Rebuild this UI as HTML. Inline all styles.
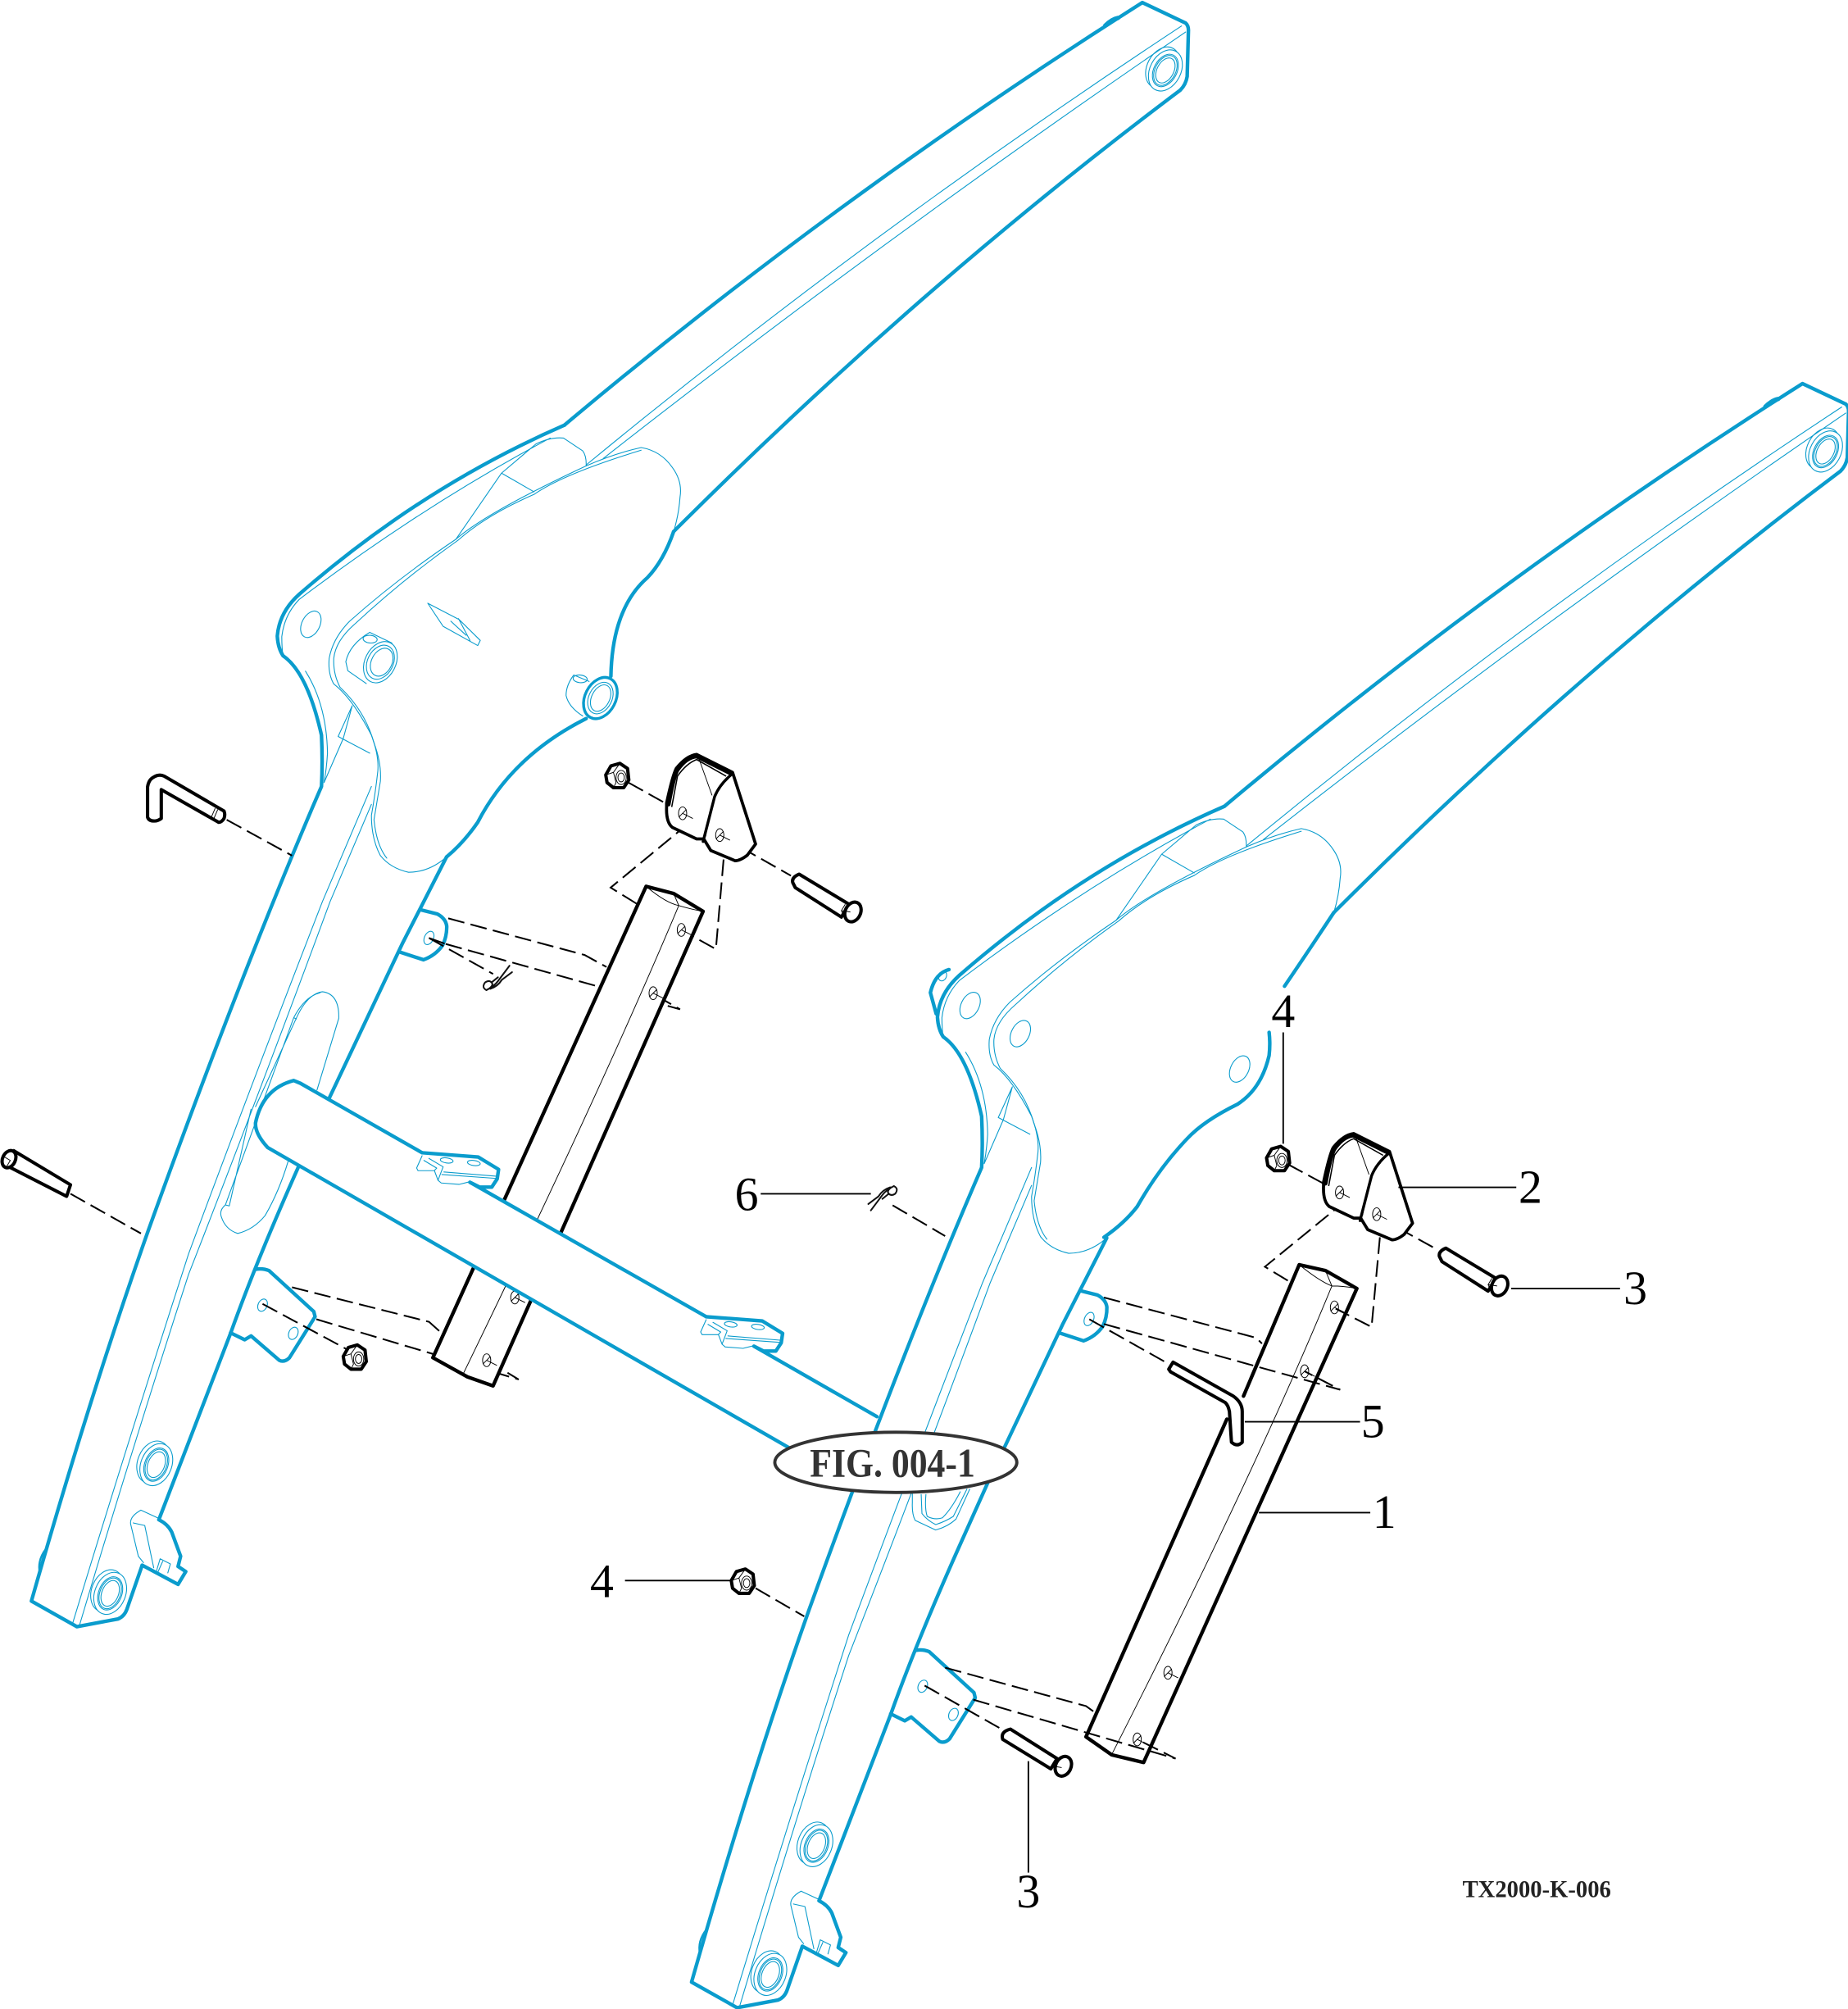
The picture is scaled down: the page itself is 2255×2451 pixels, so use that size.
<!DOCTYPE html>
<html><head><meta charset="utf-8"><style>
html,body{margin:0;padding:0;background:#fff}
svg{display:block}
.B{fill:none;stroke:#0a9ccd;stroke-width:2.8;stroke-linecap:round;stroke-linejoin:round}
.T{fill:none;stroke:#0a9ccd;stroke-width:.7;stroke-linecap:round;stroke-linejoin:round}
.K{fill:none;stroke:#000;stroke-width:2.8;stroke-linecap:round;stroke-linejoin:round}
.W{fill:#fff;stroke:#000;stroke-width:2.6;stroke-linejoin:round}
.t{fill:none;stroke:#000;stroke-width:.6}
.L{fill:none;stroke:#000;stroke-width:1.2}
.D{fill:none;stroke:#000;stroke-width:1.3;stroke-dasharray:13 5}
.n{font-family:"Liberation Serif",serif;font-size:37px;fill:#000;text-anchor:middle}
</style></head><body>
<svg xmlns="http://www.w3.org/2000/svg" width="2255" height="2451" viewBox="0 0 1443 1568.5">
<rect width="1443" height="1568.5" fill="#fff"/>
<defs>
<g id="brg"><ellipse cx="-3" cy="-1" rx="12" ry="17" class="T"/><ellipse cx="0" cy="0" rx="12" ry="17" class="T" style="fill:#fff"/><ellipse rx="9" ry="13.5" class="T"/><ellipse rx="8" ry="12.5" class="T"/><ellipse rx="6.5" ry="10.5" class="T"/></g>
<g id="bh"><ellipse rx="3.2" ry="5" class="t"/><path d="M-3 3L3-3M0 0L8 4" class="t"/></g>
<g id="nut"><path d="M-9-1L-5-8L2-10L8-6L9 3L5 9L-3 9L-8 5Z" fill="#fff" stroke="#000" stroke-width="2.600" stroke-linejoin="round"/><path d="M-9-1L-3-3L-1 5L-3 9M-3-3L2-10" class="t"/><ellipse cx="3" cy="1" rx="4" ry="5.500" class="t"/><ellipse cx="3" cy="1" rx="2.500" ry="3.500" class="t"/></g>
<g id="bolt"><path d="M619 689Q618 685 624 682.500L663 706L657 716L621 693Z" class="W"/><ellipse cx="666" cy="712" rx="6" ry="8" transform="rotate(25 666 712)" class="W"/><path d="M660 706L657 711L660 718M657 711L664 712" class="t"/></g>
<g id="brk"><path d="M520.500 627Q525 606 528 600Q536 590 544 589L572 603L590 659L583.500 667.700Q578 672 574 672L555 664L549.500 655L544 655L525 646Q520 642 520.500 630Z" class="W" style="stroke-width:2.400"/><path d="M522 628Q526 606 529 601Q536 591 544 590.500L571 604" class="K" style="stroke-width:3.200"/><path d="M572 604Q562 612 558 622L549 657" class="K" style="stroke-width:2.200"/><path d="M524.500 630L529 606Q536 596 544 593L567 606" class="t" style="stroke-width:1"/><path d="M546 593L556 621M565 612Q557 620 554 635L551 653" class="t"/><use href="#bh" x="533" y="635"/><use href="#bh" x="562" y="652"/></g>
<g id="post"><path d="M504.500 692L526 697.600L549 711.500L385 1082L365 1075L338 1060Z" fill="#fff"/><path d="M338 1060L504.500 692L526 697.600L549 711.500L385 1082L365 1075Z" class="K"/><path d="M504.500 692Q520 705 530 707Q540 710 549 711.500M526 697.600L530 707Q470 850 361 1074" class="t"/></g>
<g id="clip"><path d="M-1 3Q-5 1-2-3Q1-5 3-3Q5-1 1 2M-1 3Q5 0 8-4L17-16M2 2Q8 0 11-5L19-11M3-3L8-7" fill="none" stroke="#111" stroke-width="1.300" stroke-linecap="round"/></g>
<g id="tc">
<path d="M329.600 900L373.300 903.300L389.300 913L388.200 920.400L384 926.800L374.400 926.800L366.900 923L358.400 924.700L344.500 923.600L342 921.500L339.200 914L326.400 914L325.300 911.900Z" fill="#fff"/>
<path d="M329.600 900L373.300 903.300L389.300 913L388.200 920.400L384 926.800L374.400 926.800L366.900 923" class="B"/>
<path d="M329.600 902.300L325.300 911.900L326.400 914L339.200 914L342 921.500L344.500 923.600L358.400 924.700L366.900 922.600M346.600 915L387.200 918.300M345 917L387 920M334.900 904.400L346 911L342 921.500M331 906L341 912L339 914" class="T"/>
<ellipse cx="348.800" cy="906" rx="5" ry="2" transform="rotate(8 348.800 906)" class="T"/><ellipse cx="370" cy="908" rx="5" ry="2" transform="rotate(8 370 908)" class="T"/>
</g>
<g id="arm">
<path d="M440.600 332Q655 152 892 2L926 18L928 24L927 60L921.600 70.400Q716 225 526 415L505.500 451Q478 480 477 528L457.700 561Q400 590 373 642L348.700 669L314.500 736L180 1041L124 1186L139 1237L145 1227L99 1256Q95 1264 60 1270L24.500 1250Q70 1060 116 960Q165 830 251 614Q250 560 221 512Q210 500 216.500 490Q222 472 233.600 464Q340 385 440.600 332Z" fill="#fff" stroke="none"/>
<path d="M440.600 332Q655 152 892 2L925.800 18Q928 20 928 23.500L927 59.700Q926 66 921.600 70.400Q716 225 526 415" class="B"/>
<path d="M440.600 332Q330 380 233.600 464Q218 478 216.500 496.600Q217 506 221 512Q240 525 251 574Q252 595 251 614Q190 755 116 960Q70 1090 24.500 1250L60 1270L92 1264Q97 1262 99 1256.500L111 1222" class="B"/>
<path d="M348.700 669L314.500 736L257 857.500L233.600 909.700Q200 985 180 1041L124 1186.500Q131 1190 134 1196L141 1215L139 1223L145 1227L139 1237L111 1222" class="B"/>
<path d="M429.600 342Q330 395 233.600 468Q222 480 220 497Q220 506 221 512M238.500 524Q255 550 255.700 588Q255 600 253 611L268 576.600L275 551L264 575L288.700 588" class="T"/>
<path d="M922.600 20.300Q680 180 457.700 363M925.800 25Q690 186 471 358" class="T"/>
<path d="M457.700 363.700Q480 354 500.600 349.400Q516 352 525 365Q533 376 531 388Q530 402 526 415" class="T"/>
<path d="M457.700 363.700Q380 400 356 421Q310 452 273 485Q260 498 257 514Q256 526 260.600 534Q275 545 290 574Q296 590 295 602Q293 620 290 636.600Q290 655 297 668Q305 678 319 681Q335 681 348.700 669" class="T"/>
<path d="M500.600 351.500Q440 370 417 386Q380 402 358 421.500Q315 452 277.700 486.600Q262 500 260.600 514Q260 526 265.500 536.600Q285 555 292 580Q298 596 297 610Q294 628 292 640Q294 660 302 670" class="T"/>
<path d="M418.500 346.600L391.600 369.400L356 421M391.600 369.400L417 384M418.500 346.600Q430 341 440 342L455 352Q458 356 457.700 363.700" class="T"/>
<path d="M290 614L251.700 704Q195 850 147.200 979Q100 1125 56.500 1268M290 628L257.700 704Q200 860 147.200 995Q105 1125 62 1269" class="T"/>
<path d="M328.500 710.300L341.300 713.500Q348 717 348.800 723Q349 731 345.600 738Q340 746 330.600 749.300L312.500 743.400" class="B"/>
<g transform="translate(334.900 732.300) rotate(25)"><ellipse rx="3.500" ry="5.500" class="T"/></g>
<path d="M199.500 991Q205 990 210 992L245 1024L246 1028L226 1060Q222 1064 218 1062L196 1043L191 1046L180 1040.600" class="B"/>
<ellipse cx="205" cy="1019" rx="3.500" ry="5" transform="rotate(25 205 1019)" class="T"/><ellipse cx="229" cy="1041" rx="3.500" ry="5" transform="rotate(25 229 1041)" class="T"/>
<use href="#brg" transform="translate(122 1143.500) rotate(22)"/><use href="#brg" transform="translate(86 1244) rotate(22)"/>
<path d="M123 1185L110 1179Q101 1184 102 1190L108 1215L112 1220M104 1189L113 1191L120 1224" class="T"/><path d="M122 1227L125 1217L133 1221L131 1228M127 1219L123 1228" class="T"/>
<path d="M36 1209Q29 1218 31 1228" class="B" style="stroke-width:1.500"/>
<use href="#brg" transform="translate(910 55) rotate(28)"/>
<path d="M863 20Q868 15 873 14" class="B" style="stroke-width:3.400"/>
</g>
</defs>

<!-- left arm -->
<use href="#arm"/>
<path d="M477 528Q478 475 505.500 451Q518 438 526 415M457.700 561Q400 590 373 642Q362 658 348.700 669" class="B"/>
<!-- left slot -->
<path d="M231.500 794.600Q240 776 251.700 774.300Q265 776 264.500 795L247.500 851M229.300 794.600Q238 778 250 775M231.500 794.600L199.500 864M229.300 794.600L176 940.700Q171 945 172.800 950Q176 960 185.600 963Q198 960 207 949Q218 930 225 906.500M176 940.700L179 941.500L196 866M229.300 794.600L231.500 795.500" class="T"/>
<ellipse cx="242.700" cy="487.400" rx="7" ry="11" transform="rotate(27 242.700 487.400)" class="T"/>
<path d="M288.700 493.700Q273 503 270 516.600L271.600 523.700L286 533.700M288.700 493.700L306 502" class="T"/>
<ellipse cx="297" cy="517" rx="12" ry="17" transform="rotate(27 297 517)" class="T" style="fill:#fff"/><ellipse cx="297" cy="517" rx="10" ry="14" transform="rotate(27 297 517)" class="T"/><ellipse cx="298" cy="517" rx="8" ry="11.500" transform="rotate(27 298 517)" class="T"/>
<ellipse cx="289" cy="499" rx="5.500" ry="3" transform="rotate(5 289 499)" class="T"/>
<path d="M334 471L346 489L373 504L375 500L358.500 483.700L334 471M352 485L364 496M358 483L367 500" class="T"/>
<path d="M460 532L448 527Q442 535 442 543Q444 552 455 559" class="T"/>
<ellipse cx="453" cy="530" rx="5.500" ry="3" transform="rotate(5 453 530)" class="T"/>
<ellipse cx="468.800" cy="545" rx="12" ry="17" transform="rotate(27 468.800 545)" class="B" style="fill:#fff;stroke-width:2.200"/><ellipse cx="468.800" cy="545" rx="9" ry="13" transform="rotate(27 468.800 545)" class="T"/><ellipse cx="469" cy="545" rx="7" ry="11" transform="rotate(27 469 545)" class="T"/>

<!-- left dashes -->
<g class="D">
<path d="M490.700 611L520.500 627.600M497 705.500L476.800 693L538.700 642M565 671L559 741L532 726M563 652.800L617.600 683.700"/>
<path d="M350 717L456.500 745.600L473.600 755M334.900 732.300L348 737M348 737L531 788L510 776M334.900 732.300L385 760.400"/>
<path d="M228 1005L335 1032L345 1041M247 1030L405 1077L380 1062M205 1018L270 1053"/>
<path d="M177 640L228 668M55 932L110 963"/>
</g>
<use href="#post"/>
<use href="#bh" x="532" y="726"/><use href="#bh" x="510" y="775.400"/><use href="#bh" x="380" y="1062"/><use href="#bh" x="402" y="1013"/>
<use href="#brk"/>
<use href="#nut" x="482" y="606"/><use href="#nut" x="277" y="1060"/>
<use href="#bolt"/>
<path d="M115.200 637.900L115.200 614.400Q116 609 119.500 607Q124 604 128 605.900L174.900 633.200Q176 636 174.900 639Q173 642 170.700 642L125.900 616.500L125.900 639Q123 641 120.500 641Q116 641 115.200 637.900Z" class="W"/><path d="M170 632L167 639M168 631L165 638" class="t"/>
<path d="M10 898L55 925L52 934L7 911" class="W"/><ellipse cx="7" cy="905" rx="5" ry="7" transform="rotate(25 7 905)" class="W"/><path d="M3 903L8 906L5 911" class="t"/>
<use href="#clip" x="380.800" y="770"/>

<!-- cross tube -->
<path d="M234.600 845.800L684.700 1106L619 1132L209 895.900Q199 885 199.500 876.700Q205 850 229.300 843.600Z" fill="#fff"/>
<path d="M619 1132L209 895.900Q199 885 199.500 876.700Q205 850 229.300 843.600L234.600 845.800L329.600 900M366.900 923L551.400 1028M588.700 1051L684.700 1106" class="B"/>
<use href="#tc"/>
<use href="#tc" x="221.800" y="128"/>

<!-- right arm -->
<use href="#arm" x="515.500" y="297.500"/>
<path d="M1041.500 712.500Q1020 745 1003 770M991 806Q992 815 991 824Q985 850 966.500 862Q940 875 927 889Q905 912 888 942Q878 955 862 966" class="B"/>
<path d="M741 757Q730 760 726.500 775L731 791.500" class="B"/>
<ellipse cx="736" cy="762" rx="3" ry="4" transform="rotate(25 736 762)" class="T"/>
<ellipse cx="757.500" cy="785" rx="7" ry="11" transform="rotate(27 757.500 785)" class="T"/>
<ellipse cx="796.700" cy="807" rx="7" ry="11" transform="rotate(27 796.700 807)" class="T"/>
<ellipse cx="968" cy="834.600" rx="7" ry="11" transform="rotate(27 968 834.600)" class="T"/>
<path d="M712.400 1160L712.400 1173.200Q712 1182 714.600 1187L730.600 1194.500Q740 1192 746.500 1186L757.200 1162.600M719.300 1166.800L719.900 1181.700Q724 1187 730.600 1190.300Q738 1188 744.400 1183.900L755 1162.600M723 1166.800Q722 1178 724 1183.900Q730 1187 735.900 1185Q743 1178 749.800 1164.700" class="T"/>

<!-- right dashes -->
<g class="D">
<path d="M1005.700 909L1033.400 924M1005.600 999.800L987.700 989L1049.700 938.400M1077.500 966L1071 1036L1043 1021.700M1076 950L1123 976"/>
<path d="M862 1013L981 1044.500L985.400 1049M862 1033.700L1046.500 1085L1018.700 1070.600M850.600 1030L911 1064"/>
<path d="M738 1302L848 1332L855 1337M760 1327L918 1373L888 1358M722 1316L782 1350"/>
<path d="M697 941L738 965M590 1240L628 1262"/>
</g>
<path d="M971 1090L1014.500 987.400L1035 992L1059.500 1006L893 1376L868 1370L848 1356L958 1108" class="K"/>
<path d="M1014.500 987.400Q1030 1000 1040 1004Q1050 1004 1059.500 1006M1035 992L1040 1004Q980 1150 868 1370" class="t"/>
<use href="#bh" x="1042" y="1020.700"/><use href="#bh" x="1018.700" y="1070.600"/><use href="#bh" x="912" y="1306"/><use href="#bh" x="888" y="1358"/>
<use href="#brk" x="513" y="296"/>
<use href="#nut" x="998" y="905"/><use href="#nut" x="580" y="1235"/>
<use href="#bolt" x="505" y="292"/>
<path d="M783 1358Q781 1352 789 1350L825.400 1373L820.500 1381Z" class="W"/><ellipse cx="830.300" cy="1379" rx="6" ry="8" transform="rotate(25 830.300 1379)" class="W"/><path d="M825 1373L823 1379L826 1385M823 1379L829 1380" class="t"/>
<path d="M912.600 1069L916 1063.500L963 1090Q970 1095 970 1102L970 1126Q966 1130 961.600 1126L960 1102Q959 1097 956.700 1095L914 1071Z" class="W"/>
<use href="#clip" transform="translate(697 929) rotate(180)"/>

<!-- leaders -->
<g class="L">
<path d="M1002 806V893M1092 927H1184M1180 1006H1265M972 1110H1062M983 1181H1070M594 932H680M488 1234H572M803 1375V1462"/>
</g>
<text class="n" x="1002" y="802">4</text>
<text class="n" x="1195" y="939">2</text>
<text class="n" x="1277" y="1018">3</text>
<text class="n" x="1072" y="1122">5</text>
<text class="n" x="1081" y="1193">1</text>
<text class="n" x="583" y="945">6</text>
<text class="n" x="470" y="1247">4</text>
<text class="n" x="803" y="1489">3</text>
<ellipse cx="699.500" cy="1141.700" rx="94.500" ry="23.500" fill="#fff" stroke="#333" stroke-width="2.500"/>
<text x="632.400" y="1153" textLength="129" lengthAdjust="spacingAndGlyphs" style="font-family:'Liberation Serif',serif;font-weight:bold;font-size:32px;fill:#333">FIG. 004-1</text>
<text x="1142" y="1481" textLength="116" lengthAdjust="spacingAndGlyphs" style="font-family:'Liberation Serif',serif;font-weight:bold;font-size:19px;fill:#222">TX2000-K-006</text>
</svg>
</body></html>
